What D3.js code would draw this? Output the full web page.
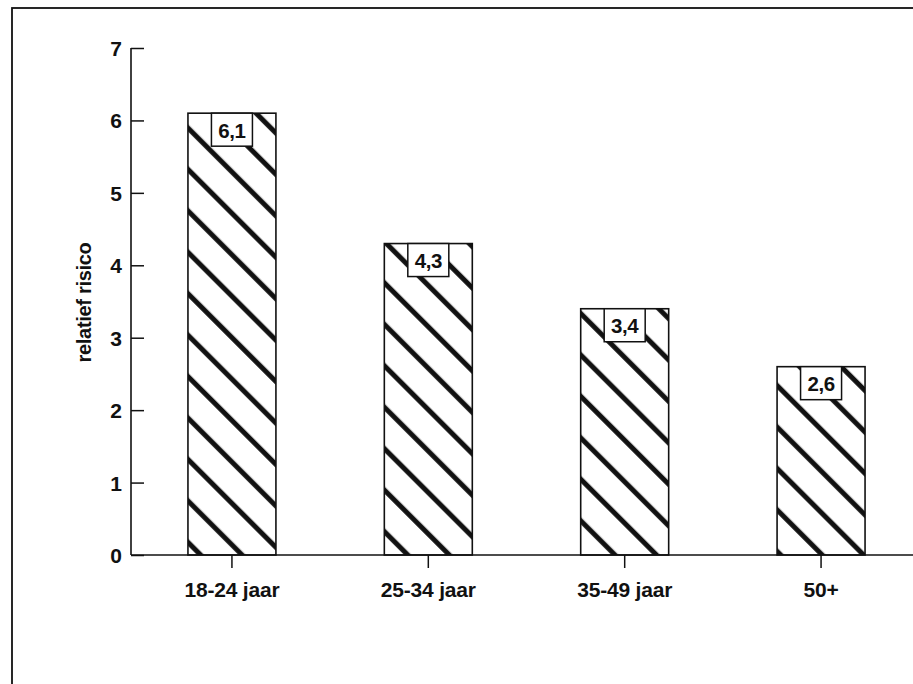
<!DOCTYPE html>
<html>
<head>
<meta charset="utf-8">
<script src="https://cdn.jsdelivr.net/npm/d3@7/dist/d3.min.js"></script>
<style>
  html, body { margin: 0; padding: 0; background: #fff; }
  svg { display: block; }
  text { font-family: "Liberation Sans", Arial, Helvetica, sans-serif; font-weight: bold; fill: #111; }
</style>
</head>
<body>
<svg id="chart" width="913" height="684"></svg>
<script>
// Relatief risico per leeftijdsgroep
const categories = ["18-24 jaar", "25-34 jaar", "35-49 jaar", "50+"];
const values = [6.1, 4.3, 3.4, 2.6];
const yTicks = [0, 1, 2, 3, 4, 5, 6, 7];
const yTitle = "relatief risico";

const svg = d3.select("#chart");
const ink = "#111";

const nl = d3.formatLocale({ decimal: ",", thousands: ".", grouping: [3], currency: ["€", ""] });
const fmt = nl.format(".1f");

// outer frame
svg.append("rect")
  .attr("x", 12).attr("y", 8)
  .attr("width", 1000).attr("height", 700)
  .attr("fill", "#fff").attr("stroke", ink).attr("stroke-width", 1.8);

const x0 = 131, y0 = 555;
const y = d3.scaleLinear().domain([0, 7]).range([y0, 48]);
const x = d3.scaleBand().domain(categories)
  .range([x0, 922]).paddingInner(0.552).paddingOuter(0.29);

// diagonal hatch pattern
const defs = svg.append("defs");
const pat = defs.append("pattern")
  .attr("id", "hatch")
  .attr("patternUnits", "userSpaceOnUse")
  .attr("width", 29.3).attr("height", 29.3)
  .attr("patternTransform", "translate(15,0) rotate(-45)");
pat.append("rect").attr("width", 29.3).attr("height", 29.3).attr("fill", "#fff");
pat.append("line")
  .attr("x1", 2.6).attr("x2", 2.6).attr("y1", 0).attr("y2", 29.3)
  .attr("stroke", ink).attr("stroke-width", 5);

// bars
svg.append("g").selectAll("rect")
  .data(values)
  .join("rect")
  .attr("x", (d, i) => x(categories[i]))
  .attr("y", d => y(d))
  .attr("width", x.bandwidth())
  .attr("height", d => y(0) - y(d))
  .attr("fill", "url(#hatch)")
  .attr("stroke", ink).attr("stroke-width", 1.6);

// value boxes
const lab = svg.append("g").selectAll("g")
  .data(values)
  .join("g")
  .attr("transform", (d, i) => `translate(${x(categories[i]) + x.bandwidth() / 2},${y(d)})`);
lab.append("rect")
  .attr("x", -20.5).attr("y", 0)
  .attr("width", 41).attr("height", 33)
  .attr("fill", "#fff").attr("stroke", ink).attr("stroke-width", 1.5);
lab.append("text")
  .attr("text-anchor", "middle")
  .attr("y", 24.5)
  .attr("font-size", 20.5)
  .attr("letter-spacing", "-0.4")
  .text(d => fmt(d));

// y axis
const yAxis = d3.axisRight(y).tickValues(yTicks).tickSize(13).tickFormat(d3.format("d"));
const gy = svg.append("g").attr("transform", `translate(${x0},0)`).call(yAxis);
gy.select(".domain").remove();
gy.selectAll(".tick line").attr("stroke", ink).attr("stroke-width", 1.5);
gy.selectAll(".tick text")
  .attr("x", -9).attr("text-anchor", "end").attr("dy", "0.36em")
  .attr("font-size", 21).attr("font-family", null).attr("fill", ink);
svg.append("line")
  .attr("x1", x0).attr("x2", x0).attr("y1", y(7)).attr("y2", y0)
  .attr("stroke", ink).attr("stroke-width", 1.6);

// x axis
const xAxis = d3.axisBottom(x).tickSize(13).tickSizeOuter(0);
const gx = svg.append("g").attr("transform", `translate(0,${y0})`).call(xAxis);
gx.select(".domain").remove();
gx.selectAll(".tick line").attr("stroke", ink).attr("stroke-width", 1.5);
gx.selectAll(".tick text")
  .attr("y", 27).attr("dy", "0.71em")
  .attr("font-size", 21).attr("font-family", null).attr("fill", ink)
  .attr("letter-spacing", "-0.2");
svg.append("line")
  .attr("x1", x0).attr("x2", 913).attr("y1", y0).attr("y2", y0)
  .attr("stroke", ink).attr("stroke-width", 1.6);

// y axis title
svg.append("text")
  .attr("transform", `translate(91,${(y(7) + y0) / 2 + 1}) rotate(-90)`)
  .attr("text-anchor", "middle")
  .attr("font-size", 20)
  .attr("letter-spacing", "-0.3")
  .text(yTitle);
</script>
</body>
</html>
